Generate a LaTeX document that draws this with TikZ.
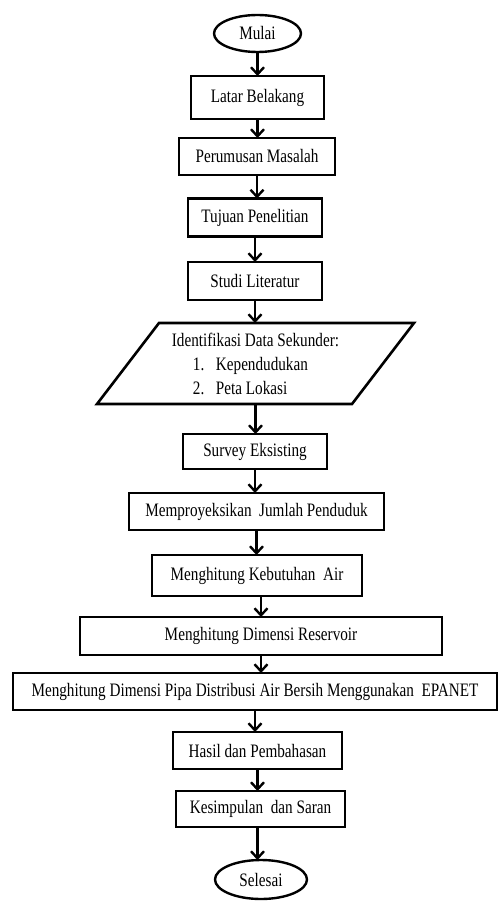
\documentclass[tikz,border=0pt]{standalone}
\usepackage{fontspec}
\setmainfont{Liberation Serif}[FakeStretch=0.8]
\usetikzlibrary{shapes.geometric,arrows.meta}
\begin{document}
\begin{tikzpicture}[x=1pt,y=-1pt,
  every node/.style={font=\fontsize{19}{24}\selectfont, inner sep=0pt, outer sep=0pt},
  box/.style={draw, line width=2.6pt, rectangle},
  term/.style={draw, line width=2.4pt, ellipse},
  arr/.style={line width=2.4pt, -{Straight Barb[length=7pt,width=13pt,line width=2.4pt]}}]
\useasboundingbox (0,0) rectangle (499,901);
\node[term, minimum width=87pt, minimum height=37pt] (mulai) at (257.5,33.5) {Mulai};
\node[box, minimum width=133pt, minimum height=43pt] (latar) at (257.5,97.5) {Latar Belakang};
\node[box, minimum width=156pt, minimum height=37pt] (rumus) at (257,156.5) {Perumusan Masalah};
\node[box, minimum width=134pt, minimum height=38pt] (tujuan) at (255,217.5) {Tujuan Penelitian};
\node[box, minimum width=134pt, minimum height=38pt] (studi) at (255,281) {Studi Literatur};
\node[minimum width=255pt, minimum height=81pt, align=left] (para) at (255.5,363.5)
  {Identifikasi Data Sekunder:\\
   \hspace*{21pt}\makebox[23pt][l]{1.}Kependudukan\\
   \hspace*{21pt}\makebox[23pt][l]{2.}Peta Lokasi};
\draw[line width=2.6pt, line join=miter]
  ([xshift=31pt]para.north west) -- ([xshift=31pt]para.north east)
  -- ([xshift=-31pt]para.south east) -- ([xshift=-31pt]para.south west) -- cycle;
\node[box, minimum width=144pt, minimum height=35pt] (survey) at (255,451.5) {Survey Eksisting};
\node[box, minimum width=255pt, minimum height=37pt] (proyeksi) at (256.5,511.5) {Memproyeksikan\ \ Jumlah Penduduk};
\node[box, minimum width=210pt, minimum height=41pt] (kebutuhan) at (257,575.5) {Menghitung Kebutuhan\ \ Air};
\node[box, minimum width=362pt, minimum height=38pt] (reservoir) at (261,636) {Menghitung Dimensi Reservoir};
\node[box, minimum width=484pt, minimum height=37pt] (pipa) at (255,691.5) {Menghitung Dimensi Pipa Distribusi Air Bersih Menggunakan\ \ EPANET};
\node[box, minimum width=169pt, minimum height=37pt] (hasil) at (257.5,750.5) {Hasil dan Pembahasan};
\node[box, minimum width=169pt, minimum height=36pt] (kesimpulan) at (260.5,809) {Kesimpulan\ \ dan Saran};
\node[term, minimum width=92pt, minimum height=39pt] (selesai) at (261,879.5) {Selesai};
\draw[arr] (mulai.south) -- (mulai.south |- latar.north);
\draw[arr] (latar.south) -- (latar.south |- rumus.north);
\draw[arr] (rumus.south) -- (rumus.south |- tujuan.north);
\draw[arr] (tujuan.south) -- (tujuan.south |- studi.north);
\draw[arr] (studi.south) -- (studi.south |- para.north);
\draw[arr] (para.south) -- (para.south |- survey.north);
\draw[arr] (survey.south) -- (survey.south |- proyeksi.north);
\draw[arr] (proyeksi.south) -- (proyeksi.south |- kebutuhan.north);
\draw[arr] (reservoir.north |- kebutuhan.south) -- (reservoir.north);
\draw[arr] (reservoir.south) -- (reservoir.south |- pipa.north);
\draw[arr] (pipa.south) -- (pipa.south |- hasil.north);
\draw[arr] (hasil.south) -- (hasil.south |- kesimpulan.north);
\draw[arr] (hasil.south |- kesimpulan.south) -- (hasil.south |- selesai.north);
\end{tikzpicture}
\end{document}
